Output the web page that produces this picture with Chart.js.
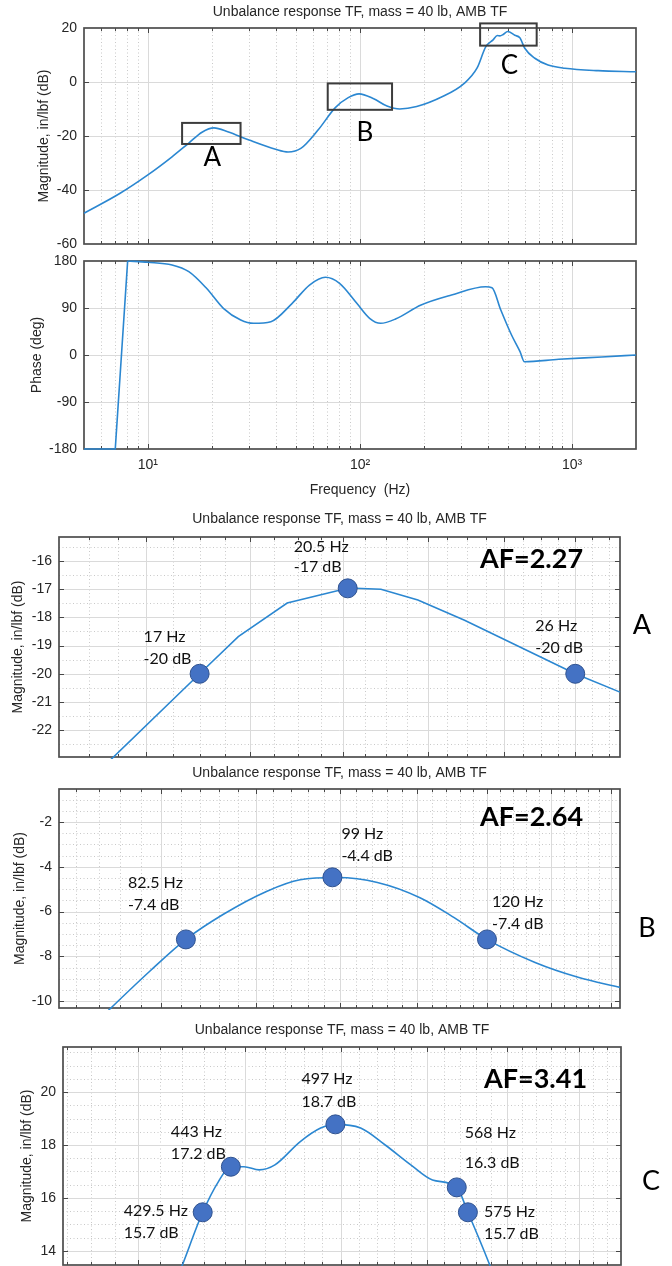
<!DOCTYPE html>
<html>
<head>
<meta charset="utf-8">
<title>Unbalance response TF</title>
<script src="https://cdn.jsdelivr.net/npm/chart.js@4.4.0/dist/chart.umd.min.js"></script>
<style>
  body { margin: 0; background: #fff; width: 672px; height: 1266px; position: relative; overflow: hidden; }
  canvas { position: absolute; left: 0; }
</style>
</head>
<body>
<canvas id="mag" width="672" height="252" style="top:0"></canvas>
<canvas id="phase" width="672" height="253" style="top:252px"></canvas>
<canvas id="zoomA" width="672" height="257" style="top:505px"></canvas>
<canvas id="zoomB" width="672" height="250" style="top:762px"></canvas>
<canvas id="zoomC" width="672" height="254" style="top:1012px"></canvas>
<script>
// full range magnitude, dB vs Hz
var magFreq = [5, 7.4, 10, 13, 15.6, 18, 20.5, 23.8, 30, 40, 45.8, 52.6, 63.4, 76.5, 88, 99, 116, 134, 154, 185, 245, 310, 356, 392, 424, 444, 457, 473, 497, 537, 567, 575, 598, 667, 770, 924, 1326, 2000];
var magDb = [-48.6, -41.2, -34.4, -27.7, -22.6, -18.6, -17.0, -18.4, -21.5, -24.9, -25.9, -24.6, -17.8, -9.5, -5.8, -4.4, -6.2, -8.9, -10.0, -9.1, -5.4, -0.5, 5.1, 13.1, 15.6, 17.2, 17.1, 17.6, 18.7, 17.3, 16.4, 15.5, 12.5, 8.8, 6.3, 5.1, 4.2, 3.8];
// full range phase, deg vs Hz (wrap from -180 to +180 near 7-8 Hz)
var phaseWrapFreq = [5, 7.02, 8.03];
var phaseWrapDeg = [-180, -180, 180];
var phaseFreq = [8.03, 10, 13, 15.6, 18.9, 22.7, 27.4, 31.5, 38, 47.9, 57.8, 68.7, 80.1, 96.6, 111, 125, 147, 194, 270, 391, 419, 461, 518, 568, 596, 865, 1379, 2000];
var phaseDeg = [180, 177.5, 172.3, 159.5, 127.7, 89.4, 67, 60.7, 63.8, 99, 134, 148.8, 137.3, 99, 70.3, 60.7, 68.9, 95.7, 114.9, 130.8, 128.9, 86.2, 38.3, 6.4, -12.8, -8.2, -3.8, 0];

// zoom A
var aFreq = [15.19, 17.0, 17.76, 18.77, 20.12, 20.87, 21.76, 22.94, 26.0, 27.35];
var aDb = [-23.41, -20.0, -18.68, -17.49, -16.96, -17.0, -17.38, -18.1, -20.0, -20.65];
var aMarkFreq = [17, 20.1, 26];
var aMarkDb = [-20, -16.97, -20];
// zoom B
var bFreq = [74.1, 78.9, 82.5, 86.4, 91.2, 95.1, 99.6, 104.7, 110.4, 115.2, 120, 127.4, 134.4, 141.6];
var bDb = [-10.78, -8.65, -7.24, -6.13, -5.1, -4.58, -4.48, -4.7, -5.38, -6.27, -7.24, -8.27, -8.93, -9.38];
var bMarkFreq = [82.5, 99, 120];
var bMarkDb = [-7.24, -4.47, -7.24];
// zoom C
var cFreq = [414, 420, 429.5, 437, 443, 449.5, 457, 465, 478, 489, 497, 511, 525, 540, 553, 568, 575, 589, 596];
var cDb = [12.2, 13.47, 15.46, 16.62, 17.18, 17.18, 17.06, 17.25, 18.12, 18.64, 18.78, 18.64, 18.0, 17.25, 16.68, 16.4, 15.46, 13.47, 12.4];
var cMarkFreq = [429.5, 443, 497, 568, 575];
var cMarkDb = [15.46, 17.18, 18.78, 16.4, 15.46];

// axis limits of the zoomed views (also the boxes on the top plot)
var aXLim = [14.5, 27.35], aYLim = [-22.95, -15.15];
var bXLim = [70.45, 141.6], bYLim = [-10.3, -0.53];
var cXLim = [368.3, 680.5], cYLim = [13.47, 21.7];

// ticks
var magTicks = [-60, -40, -20, 0, 20];
var phaseTicks = [-180, -90, 0, 90, 180];
var aTicks = [-22, -21, -20, -19, -18, -17, -16];
var bTicks = [-10, -8, -6, -4, -2];
var cTicks = [14, 16, 18, 20];
var decadeTicks = [10, 100, 1000];
var decadeLabels = ['10\u00b9', '10\u00b2', '10\u00b3'];
var aGridX = [16, 18, 20, 22, 24, 26];
var bGridX = [80, 90, 100, 110, 120, 130, 140];
var cGridX = [400, 450, 500, 550, 600, 650];

// texts
var titleText = 'Unbalance response TF, mass = 40 lb, AMB TF';
var magLabel = 'Magnitude, in/lbf (dB)';
var phaseLabel = 'Phase (deg)';
var freqLabel = 'Frequency  (Hz)';
var aLabels = [['17 Hz', '-20 dB'], ['20.5 Hz', '-17 dB'], ['26 Hz', '-20 dB']];
var bLabels = [['82.5 Hz', '-7.4 dB'], ['99 Hz', '-4.4 dB'], ['120 Hz', '-7.4 dB']];
var cLabels = [['429.5 Hz', '15.7 dB'], ['443 Hz', '17.2 dB'], ['497 Hz', '18.7 dB'], ['568 Hz', '16.3 dB'], ['575 Hz', '15.7 dB']];
var afText = ['AF=2.27', 'AF=2.64', 'AF=3.41'];
var zoomNames = ['A', 'B', 'C'];

var LINE = '#2b87d1';
var AXIS = '#262626';
var SANS = '"Liberation Sans", Arial, sans-serif';
var CAL = 'Lato, "Open Sans", sans-serif';
Chart.defaults.font.family = SANS;

function pts(xs, ys) {
  return xs.map(function (x, i) { return { x: x, y: ys[i] }; });
}
function steps(a, b, step) {
  var out = [];
  for (var v = a; v <= b + 1e-9; v += step) out.push(Math.round(v * 1000) / 1000);
  return out;
}
function logMinors(lo, hi) {
  var out = [];
  for (var d = 1; d <= 1000; d *= 10)
    for (var k = 2; k <= 9; k++) if (k * d >= lo && k * d <= hi) out.push(k * d);
  return out;
}
function without(list, skip) {
  return list.filter(function (v) { return skip.every(function (s) { return Math.abs(s - v) > 1e-6; }); });
}

var looks = {};

function vline(ctx, p, a) {
  if (p <= a.left + 1 || p >= a.right - 1) return;
  var x = Math.round(p) + 0.5;
  ctx.beginPath(); ctx.moveTo(x, a.top); ctx.lineTo(x, a.bottom); ctx.stroke();
}
function hline(ctx, p, a) {
  if (p <= a.top + 1 || p >= a.bottom - 1) return;
  var y = Math.round(p) + 0.5;
  ctx.beginPath(); ctx.moveTo(a.left, y); ctx.lineTo(a.right, y); ctx.stroke();
}

var matlabLook = {
  id: 'matlabLook',
  beforeDatasetsDraw: function (chart) {
    var L = looks[chart.canvas.id];
    var ctx = chart.ctx, a = chart.chartArea, sx = chart.scales.x, sy = chart.scales.y;
    ctx.save();
    ctx.lineWidth = 1;
    ctx.strokeStyle = '#c9c9c9';
    ctx.setLineDash([1, 2.5]);
    L.xMinor.forEach(function (v) { vline(ctx, sx.getPixelForValue(v), a); });
    L.yMinor.forEach(function (v) { hline(ctx, sy.getPixelForValue(v), a); });
    ctx.setLineDash([]);
    ctx.strokeStyle = '#dadada';
    L.xMajor.forEach(function (v) { vline(ctx, sx.getPixelForValue(v), a); });
    L.yTicks.forEach(function (v) { hline(ctx, sy.getPixelForValue(v), a); });

    // inner tick marks and the box, under the curves
    ctx.strokeStyle = '#474747';
    ctx.lineWidth = 1;
    function xt(v, len) {
      var p = sx.getPixelForValue(v);
      if (p <= a.left + 1 || p >= a.right - 1) return;
      var x = Math.round(p) + 0.5;
      ctx.beginPath();
      ctx.moveTo(x, a.top); ctx.lineTo(x, a.top + len);
      ctx.moveTo(x, a.bottom); ctx.lineTo(x, a.bottom - len);
      ctx.stroke();
    }
    L.xMinor.forEach(function (v) { xt(v, 3); });
    L.xMajor.forEach(function (v) { xt(v, 5); });
    L.yTicks.forEach(function (v) {
      var p = sy.getPixelForValue(v);
      if (p <= a.top + 1 || p >= a.bottom - 1) return;
      var y = Math.round(p) + 0.5;
      ctx.beginPath();
      ctx.moveTo(a.left, y); ctx.lineTo(a.left + 5, y);
      ctx.moveTo(a.right, y); ctx.lineTo(a.right - 5, y);
      ctx.stroke();
    });
    ctx.lineWidth = 1.7;
    ctx.strokeStyle = '#4d4d4d';
    ctx.strokeRect(a.left, a.top, a.right - a.left, a.bottom - a.top);
    ctx.restore();
  },
  afterDatasetsDraw: function (chart) {
    var L = looks[chart.canvas.id];
    var ctx = chart.ctx, sx = chart.scales.x, sy = chart.scales.y;
    ctx.save();
    // zoom boxes on the overview
    (L.boxes || []).forEach(function (b) {
      var x1 = sx.getPixelForValue(b.x[0]), x2 = sx.getPixelForValue(b.x[1]);
      var y1 = sy.getPixelForValue(b.y[1]), y2 = sy.getPixelForValue(b.y[0]);
      ctx.lineWidth = 2;
      ctx.strokeStyle = '#3c3c3c';
      ctx.strokeRect(x1, y1, x2 - x1, y2 - y1);
      ctx.fillStyle = '#000';
      ctx.font = '26px ' + CAL;
      ctx.textAlign = 'center';
      ctx.textBaseline = 'middle';
      ctx.fillText(b.name, (x1 + x2) / 2 + b.dx, y2 + b.dy);
    });
    ctx.restore();
  },
  afterDraw: function (chart) {
    var L = looks[chart.canvas.id];
    var ctx = chart.ctx, a = chart.chartArea;
    ctx.save();
    ctx.fillStyle = AXIS;
    ctx.textAlign = 'center';
    ctx.textBaseline = 'middle';
    ctx.font = '14px ' + SANS;
    if (L.title) ctx.fillText(titleText, (a.left + a.right) / 2, a.top - L.titleGap);
    if (L.xlabel) ctx.fillText(freqLabel, (a.left + a.right) / 2, a.bottom + 41);
    ctx.save();
    ctx.translate(L.ylabelX, (a.top + a.bottom) / 2);
    ctx.rotate(-Math.PI / 2);
    ctx.fillText(L.ylabel, 0, 0);
    ctx.restore();

    if (L.notes) {
      var meta = chart.getDatasetMeta(0);
      ctx.fillStyle = '#111';
      ctx.font = '16px ' + CAL;
      ctx.textAlign = 'left';
      L.notes.forEach(function (n, i) {
        var el = meta.data[i];
        var lines = L.texts[i];
        ctx.fillText(lines[0], el.x + n.dx, el.y + n.dy);
        ctx.fillText(lines[1], el.x + n.dx, el.y + n.dy + (n.gap || 22));
      });
    }
    if (L.af) {
      ctx.fillStyle = '#000';
      ctx.textAlign = 'left';
      ctx.font = 'bold 27px ' + CAL;
      ctx.fillText(L.af, a.right - L.afDx, a.top + L.afDy);
      ctx.font = '27px ' + CAL;
      ctx.textAlign = 'center';
      ctx.fillText(L.side, a.right + L.sideDx, a.top + L.sideDy);
    }
    ctx.restore();
  }
};

function curveSet(xs, ys, smooth) {
  return {
    data: pts(xs, ys),
    borderColor: LINE,
    borderWidth: 1.6,
    pointRadius: 0,
    fill: false,
    tension: smooth ? 0.4 : 0,
    cubicInterpolationMode: smooth ? 'monotone' : 'default',
    clip: 2
  };
}

function makeChart(id, o) {
  var datasets = [];
  if (o.markX) {
    datasets.push({
      data: pts(o.markX, o.markY),
      showLine: false,
      pointRadius: 9.5,
      pointBackgroundColor: '#4472c4',
      pointBorderColor: '#2f528f',
      pointBorderWidth: 1
    });
  }
  datasets.push(curveSet(o.curveX, o.curveY, o.smooth));
  if (o.extraX) datasets.push(curveSet(o.extraX, o.extraY, false));
  looks[id] = o.look;
  var xAxis = { type: 'logarithmic', min: o.xLim[0], max: o.xLim[1], display: false };
  if (o.xTicks) {
    xAxis = {
      type: 'logarithmic', min: o.xLim[0], max: o.xLim[1], display: true, position: 'bottom',
      grid: { display: false, drawTicks: false }, border: { display: false },
      afterBuildTicks: function (s) { s.ticks = o.xTicks.map(function (v) { return { value: v }; }); },
      afterFit: function (s) { s.height = 40; },
      ticks: {
        autoSkip: false, maxRotation: 0, padding: 8, color: AXIS, font: { size: 14 },
        callback: function (v, i) { return decadeLabels[i]; }
      }
    };
  }
  return new Chart(document.getElementById(id), {
    type: 'line',
    data: { datasets: datasets },
    options: {
      responsive: false,
      animation: false,
      events: [],
      layout: { padding: o.pad, autoPadding: false },
      plugins: { legend: { display: false }, tooltip: { enabled: false } },
      scales: {
        x: xAxis,
        y: {
          type: 'linear', min: o.yLim[0], max: o.yLim[1],
          grid: { display: false, drawTicks: false }, border: { display: false },
          afterBuildTicks: function (s) { s.ticks = o.yTicks.map(function (v) { return { value: v }; }); },
          afterFit: function (s) {
            s.width = o.yWidth;
            s.paddingTop = 0; s.paddingBottom = 0;
          },
          ticks: { padding: 7, color: AXIS, font: { size: 14 }, callback: function (v) { return String(v); } }
        }
      }
    },
    plugins: [matlabLook]
  });
}

var fullMinor = logMinors(5, 2000);

makeChart('mag', {
  curveX: magFreq, curveY: magDb, smooth: true,
  xLim: [5, 2000], yLim: [-60, 20], yTicks: magTicks, yWidth: 84,
  pad: { top: 28, bottom: 8, left: 0, right: 36 },
  look: {
    xMajor: decadeTicks, xMinor: fullMinor, yMinor: [], yTicks: magTicks,
    title: true, titleGap: 16, ylabel: magLabel, ylabelX: 44,
    boxes: [
      { name: zoomNames[0], x: aXLim, y: aYLim, dx: 1, dy: 14 },
      { name: zoomNames[1], x: bXLim, y: bYLim, dx: 5, dy: 23 },
      { name: zoomNames[2], x: cXLim, y: cYLim, dx: 1, dy: 20 }
    ]
  }
});

makeChart('phase', {
  curveX: phaseFreq, curveY: phaseDeg, smooth: true, extraX: phaseWrapFreq, extraY: phaseWrapDeg,
  xLim: [5, 2000], yLim: [-180, 180], yTicks: phaseTicks, yWidth: 84, xTicks: decadeTicks,
  pad: { top: 9, bottom: 16, left: 0, right: 36 },
  look: {
    xMajor: decadeTicks, xMinor: fullMinor, yMinor: [], yTicks: phaseTicks,
    title: false, xlabel: true, ylabel: phaseLabel, ylabelX: 37
  }
});

makeChart('zoomA', {
  curveX: aFreq, curveY: aDb, smooth: false, markX: aMarkFreq, markY: aMarkDb,
  xLim: aXLim, yLim: aYLim, yTicks: aTicks, yWidth: 59,
  pad: { top: 32, bottom: 5, left: 0, right: 52 },
  look: {
    xMajor: aGridX, xMinor: without(steps(14.5, 27, 0.5), aGridX),
    yMinor: without(steps(-22.5, -15.5, 0.5), aTicks), yTicks: aTicks,
    title: true, titleGap: 18, ylabel: magLabel, ylabelX: 18,
    texts: aLabels,
    notes: [{ dx: -56, dy: -37 }, { dx: -54, dy: -41, gap: 20 }, { dx: -40, dy: -48 }],
    af: afText[0], afDx: 140, afDy: 22, side: zoomNames[0], sideDx: 22, sideDy: 88
  }
});

makeChart('zoomB', {
  curveX: bFreq, curveY: bDb, smooth: true, markX: bMarkFreq, markY: bMarkDb,
  xLim: bXLim, yLim: bYLim, yTicks: bTicks, yWidth: 59,
  pad: { top: 27, bottom: 4, left: 0, right: 52 },
  look: {
    xMajor: bGridX, xMinor: without(steps(72, 140, 2), bGridX),
    yMinor: without(steps(-10, -1, 0.5), bTicks), yTicks: bTicks,
    title: true, titleGap: 16, ylabel: magLabel, ylabelX: 20,
    texts: bLabels,
    notes: [{ dx: -58, dy: -57 }, { dx: 9, dy: -43 }, { dx: 5, dy: -38 }],
    af: afText[1], afDx: 140, afDy: 28, side: zoomNames[1], sideDx: 27, sideDy: 139
  }
});

makeChart('zoomC', {
  curveX: cFreq, curveY: cDb, smooth: true, markX: cMarkFreq, markY: cMarkDb,
  xLim: cXLim, yLim: cYLim, yTicks: cTicks, yWidth: 63,
  pad: { top: 35, bottom: 1, left: 0, right: 51 },
  look: {
    xMajor: cGridX, xMinor: without(steps(370, 680, 10), cGridX),
    yMinor: without(steps(13.5, 21.5, 0.5), cTicks), yTicks: cTicks,
    title: true, titleGap: 17, ylabel: magLabel, ylabelX: 27,
    texts: cLabels,
    notes: [{ dx: -79, dy: -1 }, { dx: -60, dy: -35 }, { dx: -34, dy: -46, gap: 23 }, { dx: 8, dy: -55, gap: 30 }, { dx: 16, dy: 0 }],
    af: afText[2], afDx: 137, afDy: 32, side: zoomNames[2], sideDx: 30, sideDy: 134
  }
});
</script>
</body>
</html>
